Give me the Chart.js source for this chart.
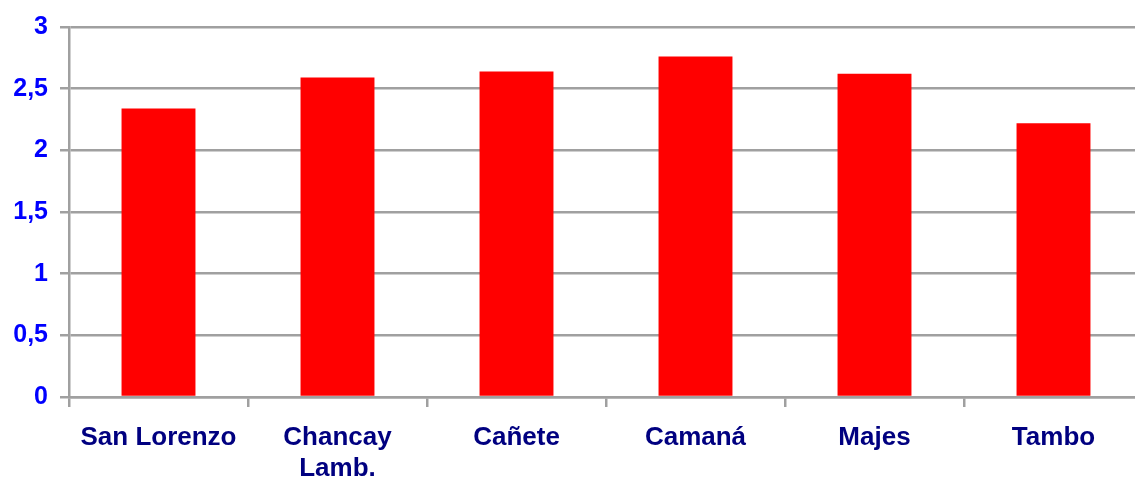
<!DOCTYPE html>
<html>
<head>
<meta charset="utf-8">
<script src="https://cdn.jsdelivr.net/npm/chart.js@4/dist/chart.umd.min.js"></script>
<style>
  html, body { margin: 0; padding: 0; background: #fff; overflow: hidden; }
  #wrap { width: 1150px; height: 482px; }
</style>
</head>
<body>
<div id="wrap"><canvas id="chart" width="1150" height="482"></canvas></div>
<script>
// Valley names (Chancay split over two lines) and their values
const valleys = ['San Lorenzo', ['Chancay', 'Lamb.'], 'Cañete', 'Camaná', 'Majes', 'Tambo'];
const values = [2.34, 2.59, 2.64, 2.76, 2.62, 2.22];
const yTicks = [0, 0.5, 1, 1.5, 2, 2.5, 3];

const gridGray = '#a0a0a0';

new Chart(document.getElementById('chart'), {
  type: 'bar',
  data: {
    labels: valleys,
    datasets: [{
      data: values,
      backgroundColor: '#ff0000',
      borderWidth: 0,
      barPercentage: 0.413,
      categoryPercentage: 1
    }]
  },
  options: {
    responsive: false,
    animation: false,
    layout: { padding: { top: 24, right: 7, left: 0, bottom: 0 } },
    plugins: {
      legend: { display: false },
      tooltip: { enabled: false }
    },
    scales: {
      y: {
        min: 0,
        max: 3,
        afterBuildTicks: axis => { axis.ticks = yTicks.map(v => ({ value: v })); },
        afterFit: axis => { axis.width = 69; },
        grid: { color: gridGray, lineWidth: 2.5, tickLength: 9 },
        border: { color: gridGray, width: 2.5 },
        ticks: {
          color: '#0000ff',
          padding: 12,
          font: { family: 'Liberation Sans, Arial, sans-serif', size: 25, weight: 'bold' },
          callback: v => String(v).replace('.', ',')
        }
      },
      x: {
        afterFit: axis => { axis.height = 85; },
        grid: { drawOnChartArea: false, color: gridGray, lineWidth: 2.5, tickLength: 10 },
        border: { color: gridGray, width: 2.5 },
        ticks: {
          color: '#000080',
          padding: 15,
          maxRotation: 0,
          autoSkip: false,
          font: { family: 'Liberation Sans, Arial, sans-serif', size: 26, weight: 'bold', lineHeight: 1.2 }
        }
      }
    }
  }
});
</script>
</body>
</html>
